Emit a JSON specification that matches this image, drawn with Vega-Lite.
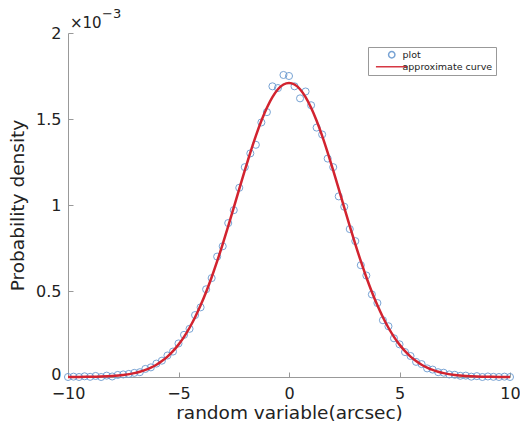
{
  "$schema": "https://vega.github.io/schema/vega-lite/v6.json",
  "width": 442,
  "height": 344,
  "autosize": {"type": "none"},
  "padding": {"left": 68, "top": 33, "right": 10, "bottom": 55},
  "background": "white",
  "config": {
    "view": {"stroke": null},
    "font": "DejaVu Sans",
    "legend": {
      "strokeColor": "#999",
      "fillColor": "white",
      "padding": 3,
      "labelFont": "DejaVu Sans",
      "labelFontSize": 9.5,
      "labelColor": "#222",
      "symbolSize": 40,
      "symbolOffset": 16,
      "labelOffset": 6,
      "rowPadding": 0
    }
  },
  "datasets": {
    "points": [
      {"x": -10, "density": 0.0}, {"x": -9.75, "density": 0.002}, {"x": -9.5, "density": 0.0}, {"x": -9.25, "density": 0.004},
      {"x": -9.0, "density": 0.001}, {"x": -8.75, "density": 0.006}, {"x": -8.5, "density": 0.0}, {"x": -8.25, "density": 0.008},
      {"x": -8.0, "density": 0.003}, {"x": -7.75, "density": 0.012}, {"x": -7.5, "density": 0.015}, {"x": -7.25, "density": 0.018},
      {"x": -7.0, "density": 0.024}, {"x": -6.75, "density": 0.028}, {"x": -6.5, "density": 0.047}, {"x": -6.25, "density": 0.056},
      {"x": -6.0, "density": 0.078}, {"x": -5.75, "density": 0.095}, {"x": -5.5, "density": 0.125}, {"x": -5.25, "density": 0.148},
      {"x": -5.0, "density": 0.195}, {"x": -4.75, "density": 0.245}, {"x": -4.5, "density": 0.28}, {"x": -4.25, "density": 0.36},
      {"x": -4.0, "density": 0.405}, {"x": -3.75, "density": 0.51}, {"x": -3.5, "density": 0.575}, {"x": -3.25, "density": 0.7},
      {"x": -3.0, "density": 0.76}, {"x": -2.75, "density": 0.895}, {"x": -2.5, "density": 0.97}, {"x": -2.25, "density": 1.1},
      {"x": -2.0, "density": 1.22}, {"x": -1.75, "density": 1.3}, {"x": -1.5, "density": 1.35}, {"x": -1.25, "density": 1.48},
      {"x": -1.0, "density": 1.54}, {"x": -0.75, "density": 1.69}, {"x": -0.5, "density": 1.68}, {"x": -0.25, "density": 1.756},
      {"x": 0.0, "density": 1.75}, {"x": 0.25, "density": 1.69}, {"x": 0.5, "density": 1.62}, {"x": 0.75, "density": 1.66},
      {"x": 1.0, "density": 1.58}, {"x": 1.25, "density": 1.45}, {"x": 1.5, "density": 1.41}, {"x": 1.75, "density": 1.27},
      {"x": 2.0, "density": 1.22}, {"x": 2.25, "density": 1.05}, {"x": 2.5, "density": 0.99}, {"x": 2.75, "density": 0.86},
      {"x": 3.0, "density": 0.79}, {"x": 3.25, "density": 0.65}, {"x": 3.5, "density": 0.59}, {"x": 3.75, "density": 0.48},
      {"x": 4.0, "density": 0.43}, {"x": 4.25, "density": 0.33}, {"x": 4.5, "density": 0.295}, {"x": 4.75, "density": 0.225},
      {"x": 5.0, "density": 0.19}, {"x": 5.25, "density": 0.145}, {"x": 5.5, "density": 0.122}, {"x": 5.75, "density": 0.088},
      {"x": 6.0, "density": 0.075}, {"x": 6.25, "density": 0.05}, {"x": 6.5, "density": 0.043}, {"x": 6.75, "density": 0.028},
      {"x": 7.0, "density": 0.025}, {"x": 7.25, "density": 0.015}, {"x": 7.5, "density": 0.013}, {"x": 7.75, "density": 0.007},
      {"x": 8.0, "density": 0.008}, {"x": 8.25, "density": 0.002}, {"x": 8.5, "density": 0.005}, {"x": 8.75, "density": 0.0},
      {"x": 9.0, "density": 0.003}, {"x": 9.25, "density": 0.001}, {"x": 9.5, "density": 0.0}, {"x": 9.75, "density": 0.002},
      {"x": 10, "density": 0.0}
    ],
    "curve": [
      {"x": -10, "density": 0.0003}, {"x": -9.5, "density": 0.0006}, {"x": -9.0, "density": 0.0013}, {"x": -8.5, "density": 0.0029},
      {"x": -8.0, "density": 0.006}, {"x": -7.5, "density": 0.0119}, {"x": -7.0, "density": 0.0226}, {"x": -6.75, "density": 0.0307},
      {"x": -6.5, "density": 0.0411}, {"x": -6.25, "density": 0.0544}, {"x": -6.0, "density": 0.0713}, {"x": -5.75, "density": 0.0924},
      {"x": -5.5, "density": 0.1184}, {"x": -5.25, "density": 0.1501}, {"x": -5.0, "density": 0.1882}, {"x": -4.75, "density": 0.2334},
      {"x": -4.5, "density": 0.2863}, {"x": -4.25, "density": 0.3473}, {"x": -4.0, "density": 0.4166}, {"x": -3.75, "density": 0.4943},
      {"x": -3.5, "density": 0.58}, {"x": -3.25, "density": 0.6732}, {"x": -3.0, "density": 0.7727}, {"x": -2.75, "density": 0.8772},
      {"x": -2.5, "density": 0.985}, {"x": -2.25, "density": 1.0938}, {"x": -2.0, "density": 1.2013}, {"x": -1.75, "density": 1.305},
      {"x": -1.5, "density": 1.402}, {"x": -1.25, "density": 1.4897}, {"x": -1.0, "density": 1.5655}, {"x": -0.75, "density": 1.6272},
      {"x": -0.5, "density": 1.6727}, {"x": -0.25, "density": 1.7006}, {"x": 0.0, "density": 1.71}, {"x": 0.25, "density": 1.7006},
      {"x": 0.5, "density": 1.6727}, {"x": 0.75, "density": 1.6272}, {"x": 1.0, "density": 1.5655}, {"x": 1.25, "density": 1.4897},
      {"x": 1.5, "density": 1.402}, {"x": 1.75, "density": 1.305}, {"x": 2.0, "density": 1.2013}, {"x": 2.25, "density": 1.0938},
      {"x": 2.5, "density": 0.985}, {"x": 2.75, "density": 0.8772}, {"x": 3.0, "density": 0.7727}, {"x": 3.25, "density": 0.6732},
      {"x": 3.5, "density": 0.58}, {"x": 3.75, "density": 0.4943}, {"x": 4.0, "density": 0.4166}, {"x": 4.25, "density": 0.3473},
      {"x": 4.5, "density": 0.2863}, {"x": 4.75, "density": 0.2334}, {"x": 5.0, "density": 0.1882}, {"x": 5.25, "density": 0.1501},
      {"x": 5.5, "density": 0.1184}, {"x": 5.75, "density": 0.0924}, {"x": 6.0, "density": 0.0713}, {"x": 6.25, "density": 0.0544},
      {"x": 6.5, "density": 0.0411}, {"x": 6.75, "density": 0.0307}, {"x": 7.0, "density": 0.0226}, {"x": 7.5, "density": 0.0119},
      {"x": 8.0, "density": 0.006}, {"x": 8.5, "density": 0.0029}, {"x": 9.0, "density": 0.0013}, {"x": 9.5, "density": 0.0006},
      {"x": 10, "density": 0.0003}
    ],
    "scale_note": [
      {"x": -10, "density": 2, "base": "×10", "exponent": "−3"}
    ]
  },
  "encoding": {
    "x": {
      "field": "x",
      "type": "quantitative",
      "scale": {"domain": [-10, 10], "nice": false},
      "axis": {
        "title": "random variable(arcsec)",
        "values": [-10, -5, 0, 5, 10],
        "grid": false,
        "domainColor": "#999",
        "tickColor": "#999",
        "tickSize": -5,
        "labelPadding": 13,
        "labelFontSize": 16,
        "labelColor": "#222",
        "labelFont": "DejaVu Sans",
        "titleFont": "DejaVu Sans",
        "titleFontSize": 18.5,
        "titleFontWeight": "normal",
        "titleColor": "#222",
        "titlePadding": 2,
        "labelFlush": false
      }
    },
    "y": {
      "field": "density",
      "type": "quantitative",
      "scale": {"domain": [0, 2], "nice": false},
      "axis": {
        "title": "Probability density",
        "values": [0, 0.5, 1, 1.5, 2],
        "format": "~g",
        "grid": false,
        "domainColor": "#999",
        "tickColor": "#999",
        "tickSize": -5,
        "labelPadding": 12,
        "labelOffset": {"condition": {"test": "datum.value === 0", "value": -3}, "value": 0},
        "labelFontSize": 16,
        "labelColor": "#222",
        "labelFont": "DejaVu Sans",
        "titleFont": "DejaVu Sans",
        "titleFontSize": 18.5,
        "titleFontWeight": "normal",
        "titleColor": "#222",
        "titlePadding": 8,
        "labelFlush": false
      }
    }
  },
  "layer": [
    {
      "data": {"name": "points"},
      "mark": {"type": "point", "filled": false, "size": 50, "strokeWidth": 1, "opacity": 0.9},
      "encoding": {
        "color": {
          "datum": "plot",
          "scale": {"domain": ["plot", "approximate curve"], "range": ["#6a9ad0", "#d2232f"]},
          "legend": {
            "title": null,
            "orient": "top-right",
            "offset": 14,
            "encode": {
              "symbols": {
                "update": {
                  "strokeWidth": {"signal": "datum.value === 'plot' ? 1 : 2.2"}
                }
              }
            }
          }
        },
        "shape": {
          "datum": "plot",
          "scale": {"domain": ["plot", "approximate curve"], "range": ["circle", "M-5,0L5,0"]},
          "legend": {
            "title": null,
            "orient": "top-right",
            "offset": 14,
            "encode": {
              "symbols": {
                "update": {
                  "strokeWidth": {"signal": "datum.value === 'plot' ? 1 : 2.2"}
                }
              }
            }
          }
        }
      }
    },
    {
      "data": {"name": "curve"},
      "mark": {"type": "line", "strokeWidth": 2.5, "interpolate": "monotone"},
      "encoding": {
        "color": {"datum": "approximate curve"}
      }
    },
    {
      "data": {"name": "scale_note"},
      "mark": {"type": "text", "align": "left", "baseline": "alphabetic", "font": "DejaVu Sans", "fontSize": 15, "dx": 2, "dy": -5, "color": "#222"},
      "encoding": {
        "text": {"field": "base", "type": "nominal"}
      }
    },
    {
      "data": {"name": "scale_note"},
      "mark": {"type": "text", "align": "left", "baseline": "alphabetic", "font": "DejaVu Sans", "fontSize": 13, "dx": 34, "dy": -15, "color": "#222"},
      "encoding": {
        "text": {"field": "exponent", "type": "nominal"}
      }
    }
  ]
}
